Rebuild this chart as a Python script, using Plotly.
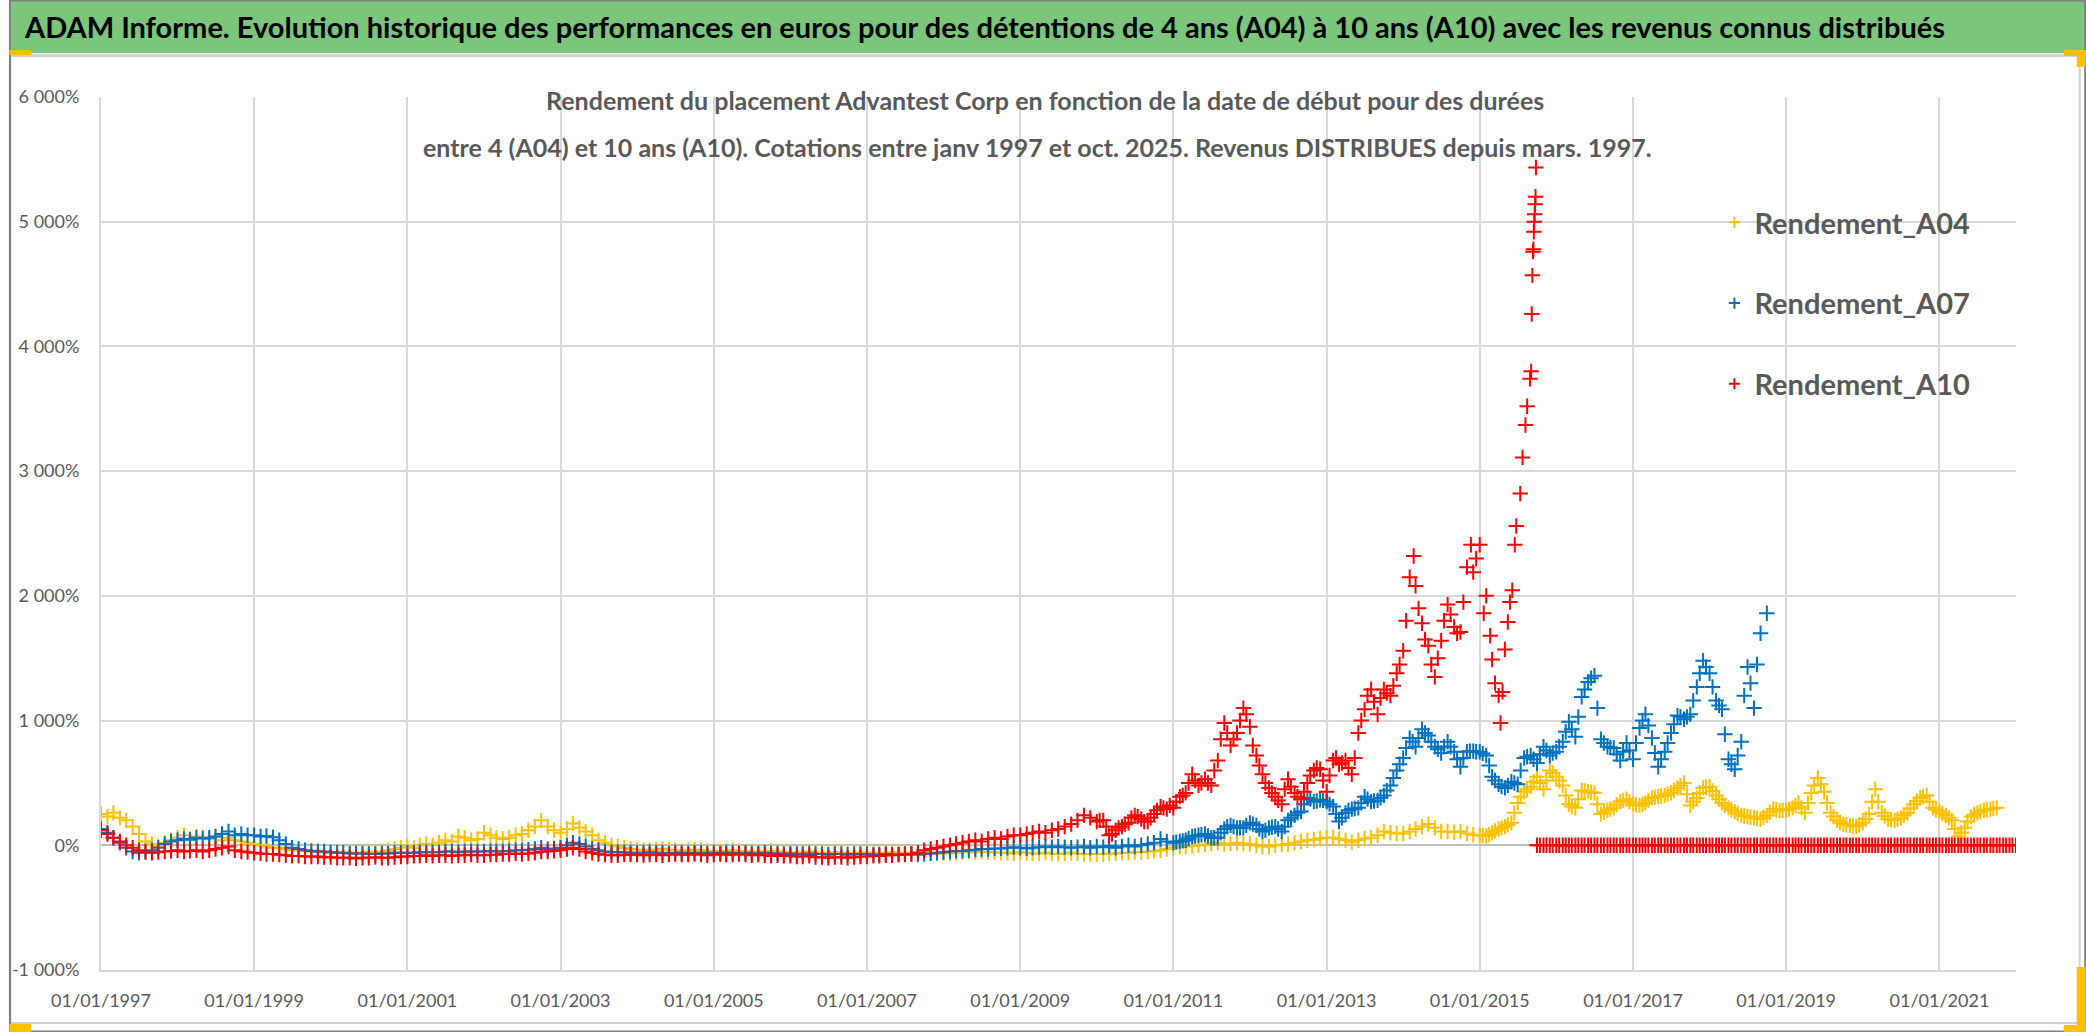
import pandas as pd
import plotly.graph_objects as go

# ---------------- DATA (% returns) ----------------
series_names = ["Rendement_A04", "Rendement_A07", "Rendement_A10"]

# Rendement_A04 : readings on the 1st of each month, 1997-01 .. 2021-10
a04_start = "1997-01-01"
a04_values = [
    250, 230, 260, 220, 200, 150, 90, 30, 10, -10, 20, 40,            # 1997
    60, 80, 50, 70, 60, 50, 70, 40, 60, 40, 30, 20,                   # 1998
    10, 0, -10, -20, -20, -30, -40, -40, -45, -50, -50, -55,          # 1999
    -55, -55, -60, -60, -60, -60, -55, -55, -50, -40, -30, -20,       # 2000
    -10, -20, 0, 10, 0, 20, 40, 30, 70, 60, 40, 50,                   # 2001
    100, 80, 60, 50, 60, 80, 90, 120, 150, 200, 150, 120,             # 2002
    100, 130, 175, 140, 110, 80, 40, 20, 0, -10, -20, -30,            # 2003
    -35, -40, -40, -35, -30, -35, -40, -45, -40, -35, -40, -45,       # 2004
    -45, -50, -45, -40, -45, -50, -50, -55, -50, -45, -50, -55,       # 2005
    -55, -60, -55, -50, -55, -60, -60, -55, -60, -65, -60, -60,       # 2006
    -60, -60, -65, -60, -55, -60, -65, -60, -60, -55, -60, -65,       # 2007
    -60, -65, -60, -55, -50, -55, -50, -55, -55, -60, -60, -65,       # 2008
    -55, -60, -65, -65, -60, -65, -70, -65, -60, -65, -70, -70,       # 2009
    -70, -70, -65, -65, -60, -60, -55, -55, -50, -45, -40, -30,       # 2010
    -20, -15, -10, -5, 0, 5, 15, 20, 10, 15, 20, 15,                  # 2011
    10, 0, -10, -10, 0, 5, 10, 20, 30, 40, 45, 55,                    # 2012
    60, 60, 50, 40, 25, 40, 55, 60, 80, 110, 100, 95,                 # 2013
    95, 110, 130, 150, 170, 140, 110, 110, 105, 110, 95, 85,          # 2014
    80, 75, 100, 130, 150, 180, 340, 430, 470, 550, 450, 600,         # 2015
    550, 480, 330, 300, 440, 430, 420, 250, 280, 300, 350, 370,       # 2016
    330, 320, 340, 380, 390, 400, 420, 460, 500, 320, 380, 460,       # 2017
    470, 400, 340, 300, 270, 240, 230, 220, 210, 240, 290, 280,       # 2018
    280, 300, 340, 260, 420, 540, 430, 260, 200, 170, 160, 150,       # 2019
    180, 250, 450, 260, 210, 200, 220, 260, 330, 380, 400, 300,       # 2020
    270, 240, 200, 70, 140, 230, 260, 280, 290, 300,                  # 2021
]
# Rendement_A04 : extra readings on the 15th of each month, 2015-01 .. 2021-09
a04_mid_start = "2015-01-01"
a04_mid_values = [
    78, 85, 115, 140, 165, 260, 390, 450, 510, 500, 520, 580,         # 2015
    520, 400, 310, 370, 435, 425, 330, 265, 290, 325, 360, 350,       # 2016
    325, 330, 360, 385, 395, 410, 440, 480, 410, 350, 420, 465,       # 2017
    435, 370, 320, 285, 255, 235, 225, 215, 225, 265, 285, 280,       # 2018
    290, 320, 300, 340, 480, 490, 340, 230, 185, 165, 155, 165,       # 2019
    210, 350, 350, 235, 205, 210, 240, 295, 355, 390, 350, 285,       # 2020
    255, 220, 130, 100, 190, 245, 270, 285, 295,                      # 2021
]

# Rendement_A07 : readings on the 1st of each month, 1997-01 .. 2018-10
a07_start = "1997-01-01"
a07_values = [
    130, 100, 60, 20, -20, -50, -60, -50, -40, -20, 10, 30,           # 1997
    40, 50, 45, 60, 55, 60, 70, 90, 110, 80, 90, 80,                  # 1998
    80, 70, 75, 65, 40, 10, -20, -30, -40, -45, -50, -50,             # 1999
    -55, -60, -60, -65, -65, -65, -70, -70, -65, -65, -60, -60,       # 2000
    -60, -60, -55, -55, -55, -55, -50, -50, -55, -50, -50, -50,       # 2001
    -50, -45, -50, -50, -45, -40, -40, -35, -30, -20, -30, -25,       # 2002
    -20, 0, 20, 10, -10, -30, -40, -50, -55, -55, -55, -60,           # 2003
    -60, -60, -55, -60, -60, -65, -60, -60, -65, -60, -60, -65,       # 2004
    -60, -65, -60, -60, -65, -60, -65, -65, -60, -65, -65, -70,       # 2005
    -65, -70, -70, -65, -70, -70, -75, -70, -70, -75, -70, -70,       # 2006
    -70, -75, -75, -70, -75, -75, -70, -70, -75, -70, -65, -60,       # 2007
    -55, -50, -45, -45, -40, -35, -30, -30, -25, -25, -20, -15,       # 2008
    -20, -25, -20, -15, -10, -15, -10, -15, -20, -15, -10, -20,       # 2009
    -10, -15, -5, -20, -10, 0, -10, 0, 10, 20, 50, 30,                # 2010
    20, 30, 40, 70, 80, 90, 60, 60, 130, 160, 140, 140,               # 2011
    180, 160, 110, 140, 150, 110, 200, 240, 270, 380, 350, 365,       # 2012
    350, 310, 190, 260, 290, 300, 390, 350, 360, 400, 480, 600,       # 2013
    700, 860, 790, 930, 880, 790, 740, 830, 750, 630, 750, 755,       # 2014
    750, 720, 550, 490, 460, 510, 490, 700, 720, 660, 790, 720,       # 2015
    750, 830, 990, 870, 1190, 1310, 1360, 850, 790, 780, 680, 820,    # 2016
    690, 940, 1050, 860, 630, 750, 900, 1040, 1010, 1050, 1270, 1480, # 2017
    1380, 1160, 1090, 690, 610, 830, 1430, 1100, 1700, 1860,          # 2018
]
# Rendement_A07 : extra readings on the 15th of each month, 2011-01 .. 2018-08
a07_mid_start = "2011-01-01"
a07_mid_values = [
    25, 35, 55, 75, 85, 75, 60, 100, 150, 150, 140, 160,              # 2011
    170, 130, 120, 145, 130, 150, 220, 260, 330, 370, 355, 360,       # 2012
    330, 250, 220, 280, 295, 340, 370, 355, 380, 440, 540, 650,       # 2013
    780, 830, 860, 900, 830, 770, 790, 790, 690, 700, 755, 750,       # 2014
    735, 640, 520, 470, 480, 500, 600, 710, 690, 730, 760, 740,       # 2015
    790, 910, 930, 1030, 1250, 1340, 1100, 820, 785, 730, 750, 760,   # 2016
    820, 1000, 960, 740, 690, 820, 970, 1030, 1030, 1160, 1380, 1430, # 2017
    1270, 1120, 890, 650, 720, 1200, 1300, 1450,                      # 2018
]

# Rendement_A10 : readings on the 1st of each month, 1997-01 .. 2013-12
a10_start = "1997-01-01"
a10_values = [
    120, 90, 60, 30, 0, -20, -40, -55, -60, -55, -50, -45,            # 1997
    -40, -50, -45, -40, -50, -40, -30, -20, -10, -40, -50, -55,       # 1998
    -60, -65, -70, -70, -75, -80, -85, -85, -90, -90, -90, -95,       # 1999
    -95, -100, -100, -100, -105, -100, -100, -95, -100, -100, -95, -90,  # 2000
    -90, -85, -85, -80, -85, -80, -80, -85, -80, -80, -75, -80,       # 2001
    -80, -75, -75, -70, -70, -65, -70, -65, -60, -50, -50, -45,       # 2002
    -40, -30, -20, -30, -50, -60, -70, -75, -80, -80, -75, -75,       # 2003
    -75, -80, -75, -75, -80, -75, -70, -75, -75, -70, -75, -80,       # 2004
    -75, -70, -75, -75, -70, -75, -80, -75, -80, -85, -80, -85,       # 2005
    -85, -90, -90, -85, -95, -95, -100, -95, -95, -100, -95, -90,     # 2006
    -90, -85, -85, -80, -80, -75, -75, -70, -60, -40, -30, -20,       # 2007
    -10, 0, 10, 20, 30, 40, 30, 50, 60, 50, 70, 80,                   # 2008
    80, 90, 100, 110, 100, 120, 130, 150, 170, 200, 240, 220,         # 2009
    190, 200, 80, 120, 150, 180, 240, 210, 190, 250, 310, 290,        # 2010
    300, 390, 420, 570, 480, 530, 480, 680, 980, 800, 900, 1100,      # 2011
    950, 720, 570, 460, 390, 330, 530, 420, 370, 500, 600, 610,       # 2012
    430, 680, 650, 680, 570, 900, 1090, 1250, 1050, 1250, 1200, 1380, # 2013
]
# Rendement_A10 : extra readings on the 15th of each month, 2010-01 .. 2013-12
a10_mid_start = "2010-01-01"
a10_mid_values = [
    200, 150, 90, 140, 170, 220, 230, 190, 220, 280, 300, 320,        # 2010
    350, 400, 500, 520, 500, 500, 600, 850, 900, 850, 1000, 1050,     # 2011
    800, 640, 500, 420, 360, 450, 470, 390, 430, 560, 620, 520,       # 2012
    560, 700, 660, 620, 700, 1000, 1200, 1150, 1180, 1220, 1280, 1450,  # 2013
]
# Rendement_A10 : individual readings 2014 .. Sept. 2015 (final surge)
a10_late_dates = [
    "2014-01-01", "2014-01-15", "2014-02-01", "2014-02-20", "2014-03-01", "2014-03-15",
    "2014-04-01", "2014-04-15", "2014-05-01", "2014-05-15", "2014-06-01", "2014-06-15",
    "2014-07-01", "2014-07-15", "2014-08-01", "2014-08-15", "2014-09-01", "2014-09-15",
    "2014-10-01", "2014-10-15", "2014-11-01", "2014-11-20", "2014-12-01", "2014-12-15",
    "2015-01-01", "2015-01-20", "2015-02-01", "2015-02-20", "2015-03-01", "2015-03-15",
    "2015-04-01", "2015-04-10", "2015-04-20", "2015-05-01", "2015-05-15", "2015-05-25",
    "2015-06-05", "2015-06-17", "2015-06-24", "2015-07-13", "2015-07-24", "2015-08-07",
    "2015-08-15", "2015-08-29", "2015-09-03", "2015-09-06", "2015-09-09", "2015-09-12",
    "2015-09-14", "2015-09-16", "2015-09-18", "2015-09-20", "2015-09-22", "2015-09-24",
    "2015-09-26",
]
a10_late_values = [
    1560, 1800, 2150, 2320, 2080, 1900,
    1780, 1650, 1600, 1450, 1350, 1500,
    1640, 1800, 1930, 1850, 1750, 1700,
    1710, 1950, 2230, 2410, 2190, 2300,
    2410, 1860, 2000, 1680, 1490, 1300,
    1200, 980, 1230, 1570, 1790, 1950,
    2045, 2410, 2560, 2820, 3110, 3370,
    3520, 3740, 3800, 4260, 4570, 4760,
    4780, 4920, 5000, 5060, 5140, 5200,
    5435,
]
# Rendement_A10 : the flat 0 % readings displayed from Oct. 2015 to the end of the axis
a10_zero_start = "2015-10-01"
a10_zero_end = "2022-01-01"

y_tick_values = [-1000, 0, 1000, 2000, 3000, 4000, 5000, 6000]
y_tick_labels = ["-1 000%", "0%", "1 000%", "2 000%", "3 000%", "4 000%", "5 000%", "6 000%"]
x_tick_dates = ["1997-01-01", "1999-01-01", "2001-01-01", "2003-01-01", "2005-01-01",
                "2007-01-01", "2009-01-01", "2011-01-01", "2013-01-01", "2015-01-01",
                "2017-01-01", "2019-01-01", "2021-01-01"]
x_tick_labels = ["01/01/1997", "01/01/1999", "01/01/2001", "01/01/2003", "01/01/2005",
                 "01/01/2007", "01/01/2009", "01/01/2011", "01/01/2013", "01/01/2015",
                 "01/01/2017", "01/01/2019", "01/01/2021"]
x_range = ["1997-01-01", "2022-01-01"]
y_range = [-1000, 6000]

main_title = ("ADAM Informe. Evolution historique des performances en euros pour des détentions "
              "de 4 ans (A04) à 10 ans (A10) avec les revenus connus distribués")
sub_line1 = "Rendement du placement Advantest Corp en fonction de la date de début pour des durées"
sub_line2 = ("entre 4 (A04) et 10 ans (A10). Cotations entre janv 1997 et oct. 2025. "
             "Revenus DISTRIBUES depuis mars. 1997.")

# ---------------- STYLE ----------------
colors = ["#FFC000", "#0070C0", "#FF0000"]
W, H = 2086, 1032
ML, MR, MT, MB = 92, 70, 97, 62
PW, PH = W - ML - MR, H - MT - MB
FONT = "Lato"
GREY_TXT = "#595959"


def px_x(px):
    return (px - ML) / PW


def px_y(py):
    return (H - MB - py) / PH


def monthly(start, n):
    return list(pd.date_range(start, periods=n, freq="MS"))


def mid_monthly(start, n):
    return list(pd.date_range(start, periods=n, freq="MS") + pd.Timedelta(days=14))


# ---------------- BUILD ----------------
a04_x = monthly(a04_start, len(a04_values)) + mid_monthly(a04_mid_start, len(a04_mid_values))
a04_y = a04_values + a04_mid_values
a07_x = monthly(a07_start, len(a07_values)) + mid_monthly(a07_mid_start, len(a07_mid_values))
a07_y = a07_values + a07_mid_values

a10_zero_dates = list(pd.date_range(a10_zero_start, a10_zero_end, freq="SMS"))
a10_zero_values = [0] * len(a10_zero_dates)
a10_x = (monthly(a10_start, len(a10_values)) + mid_monthly(a10_mid_start, len(a10_mid_values))
         + list(pd.to_datetime(a10_late_dates)) + a10_zero_dates)
a10_y = a10_values + a10_mid_values + a10_late_values + a10_zero_values

series_x = [a04_x, a07_x, a10_x]
series_y = [a04_y, a07_y, a10_y]

fig = go.Figure()
for name, xs, ys, col in zip(series_names, series_x, series_y, colors):
    fig.add_trace(go.Scatter(
        x=xs, y=ys, name=name, mode="markers", legendgroup=name, showlegend=False,
        marker=dict(symbol="cross-thin", size=11, color=col,
                    line=dict(color=col, width=2)),
    ))
# legend entries (small "+" symbols, as in the reference legend)
for name, col in zip(series_names, colors):
    fig.add_trace(go.Scatter(
        x=[None], y=[None], name=name, mode="markers", legendgroup=name, showlegend=True,
        marker=dict(symbol="cross-thin", size=8, color=col,
                    line=dict(color=col, width=2)),
    ))

shapes = [
    # green title band
    dict(type="rect", xref="paper", yref="paper", layer="above",
         x0=px_x(0), x1=px_x(W), y0=px_y(53), y1=px_y(0),
         fillcolor="#7CC67C", line=dict(width=0)),
    dict(type="line", xref="paper", yref="paper", layer="above",
         x0=px_x(0), x1=px_x(W), y0=px_y(55), y1=px_y(55),
         line=dict(color="#D9D9D9", width=3)),
    # chart area border
    dict(type="rect", xref="paper", yref="paper", layer="above",
         x0=px_x(1), x1=px_x(2080), y0=px_y(1023), y1=px_y(56),
         line=dict(color="#D0D0D0", width=2), fillcolor="rgba(0,0,0,0)"),
    # outer picture border
    dict(type="rect", xref="paper", yref="paper", layer="above",
         x0=px_x(0.5), x1=px_x(W - 0.5), y0=px_y(H - 0.5), y1=px_y(0.5),
         line=dict(color="#808080", width=2), fillcolor="rgba(0,0,0,0)"),
    # white box behind the subtitle
    dict(type="rect", xref="paper", yref="paper", layer="between",
         x0=px_x(420), x1=px_x(1663), y0=px_y(163), y1=px_y(60),
         fillcolor="white", line=dict(width=0)),
    # white box behind the legend
    dict(type="rect", xref="paper", yref="paper", layer="between",
         x0=px_x(1703), x1=px_x(2020), y0=px_y(422), y1=px_y(181),
         fillcolor="white", line=dict(width=0)),
]
# small yellow selection marks at the corners of the picture
for (x0, y0, x1, y1) in [(0, 50, 22, 55), (0, 1024, 22, 1032), (2064, 50, 2086, 56),
                         (2077, 50, 2086, 67), (2077, 967, 2086, 1032), (2064, 1025, 2086, 1032)]:
    shapes.append(dict(type="rect", xref="paper", yref="paper", layer="above",
                       x0=px_x(x0), x1=px_x(x1), y0=px_y(y1), y1=px_y(y0),
                       fillcolor="#FFC000", line=dict(width=0)))

annotations = [
    dict(text=main_title, xref="paper", yref="paper", x=px_x(980), y=px_y(26),
         xanchor="center", yanchor="middle", showarrow=False,
         font=dict(family=FONT, size=29, color="black", weight="bold")),
    dict(text=sub_line1, xref="paper", yref="paper", x=px_x(1040), y=px_y(100),
         xanchor="center", yanchor="middle", showarrow=False,
         font=dict(family=FONT, size=25, color=GREY_TXT, weight="bold")),
    dict(text=sub_line2, xref="paper", yref="paper", x=px_x(1033), y=px_y(147),
         xanchor="center", yanchor="middle", showarrow=False,
         font=dict(family=FONT, size=25, color=GREY_TXT, weight="bold")),
]

fig.update_layout(
    width=W, height=H,
    margin=dict(l=ML, r=MR, t=MT, b=MB, pad=0),
    paper_bgcolor="white", plot_bgcolor="white",
    font=dict(family=FONT, color=GREY_TXT),
    showlegend=True,
    legend=dict(x=px_x(1713), y=px_y(197), xanchor="left", yanchor="top",
                bgcolor="rgba(0,0,0,0)", borderwidth=0, tracegroupgap=40,
                font=dict(family=FONT, size=29, color=GREY_TXT, weight="bold"),
                itemsizing="trace"),
    shapes=shapes,
    annotations=annotations,
    xaxis=dict(type="date", range=x_range, tickmode="array", tickvals=x_tick_dates,
               ticktext=x_tick_labels, showgrid=True, gridcolor="#D9D9D9", gridwidth=2,
               showline=True, linecolor="#D9D9D9", linewidth=2, ticks="",
               tickfont=dict(family=FONT, size=18, color=GREY_TXT),
               ticklabelstandoff=13, zeroline=False),
    yaxis=dict(range=y_range, tickmode="array", tickvals=y_tick_values, ticktext=y_tick_labels,
               showgrid=True, gridcolor="#D9D9D9", gridwidth=2,
               showline=True, linecolor="#D9D9D9", linewidth=2, ticks="",
               zeroline=True, zerolinecolor="#BFBFBF", zerolinewidth=2,
               tickfont=dict(family=FONT, size=18, color=GREY_TXT),
               ticklabelstandoff=16),
)

fig.write_html("out.html", config={"displayModeBar": False},
               post_script="document.body.style.margin='0px';document.body.style.overflow='hidden';")
